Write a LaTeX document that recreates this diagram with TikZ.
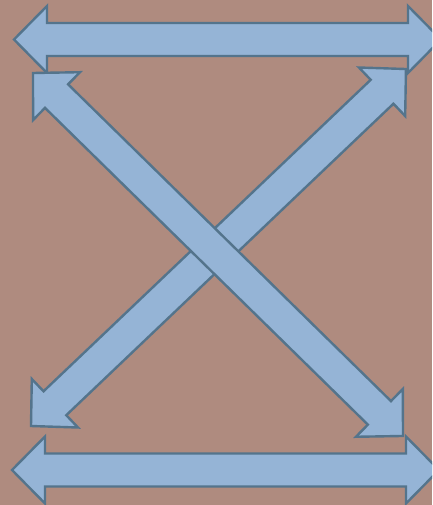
\documentclass[tikz,border=0pt]{standalone}
\usetikzlibrary{calc}
\definecolor{bg}{RGB}{175,139,127}
\definecolor{fillb}{RGB}{149,180,214}
\definecolor{edge}{RGB}{84,116,140}
\tikzset{
  every picture/.style={line join=miter, line cap=butt},
  % Pfeilkörper
  arr/.style={fill=fillb, draw=edge, line width=2.4pt},
}
% Doppelpfeil von Spitze (#1,#2) zu Spitze (#3,#4)
\newcommand{\dblarr}[4]{%
  \pgfmathsetmacro{\alen}{veclen(#3-#1,#4-#2)}%
  \pgfmathsetmacro{\aang}{atan2(#2-#4,#3-#1)}%
  \begin{scope}[shift={(#1,#2)}, rotate=\aang]
    \draw[arr] (0,0) -- (33,33.5) -- (33,16.5) -- (\alen-33,16.5) -- (\alen-33,33.5)
      -- (\alen,0) -- (\alen-33,-33.5) -- (\alen-33,-16.5) -- (33,-16.5) -- (33,-33.5) -- cycle;
  \end{scope}}
\begin{document}
\begin{tikzpicture}[x=1pt, y=-1pt]
  % Hintergrund
  \fill[bg] (0,0) rectangle (432,505);
  \useasboundingbox (0,0) rectangle (432,505);
  \clip (0,0) rectangle (432,505);
  % waagrechte Pfeile
  \dblarr{14}{39.5}{441}{39.5}
  \dblarr{12}{470}{439}{470}
  % Diagonalen (links oben nach rechts unten liegt oben)
  \dblarr{31}{426}{406}{69}
  \dblarr{33}{73}{403}{436}
\end{tikzpicture}
\end{document}
